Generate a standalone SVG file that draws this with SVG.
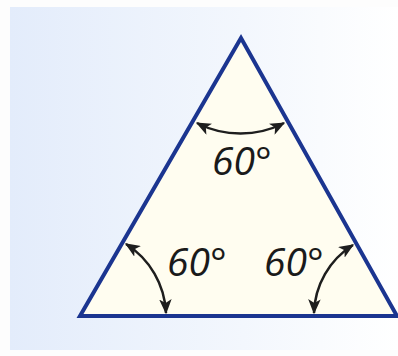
<svg xmlns="http://www.w3.org/2000/svg" width="398" height="356" viewBox="0 0 398 356">
  <style>
    .arc { fill: none; stroke: #1e1e1e; stroke-width: 2.5; marker-start: url(#ah); marker-end: url(#ah); }
    .lbl { font-family: "Open Sans", "Liberation Sans", sans-serif; font-style: italic; font-size: 39px; fill: #1a1a1a; }
  </style>
  <defs>
    <linearGradient id="bg" x1="0" y1="0" x2="1" y2="0">
      <stop offset="0" stop-color="#e3ecfb"/>
      <stop offset="0.6" stop-color="#f3f7fd"/>
      <stop offset="1" stop-color="#ffffff"/>
    </linearGradient>
    <marker id="ah" viewBox="0 0 12 10" refX="11" refY="5" markerWidth="6" markerHeight="5" orient="auto-start-reverse" markerUnits="strokeWidth">
      <path d="M0,0 L12,5 L0,10 L3,5 Z" fill="#1e1e1e"/>
    </marker>
  </defs>
  <rect x="0" y="0" width="398" height="356" fill="#fdfdfd"/>
  <rect id="panel" x="10" y="7" width="388" height="343" fill="url(#bg)"/>
  <g id="triangle">
    <polygon points="241,38 80,316 397,316" fill="#fffdf0" stroke="#1b3590" stroke-width="4" stroke-linejoin="miter"/>
  </g>
  <g id="connectors">
    <path class="arc" d="M197,123 A95,95 0 0 0 284,123"/>
    <path class="arc" d="M126,244 A86,86 0 0 1 166,313"/>
    <path class="arc" d="M314,313 A83,83 0 0 1 353,245"/>
  </g>
  <g id="label-top"><text class="lbl" x="212" y="175">60°</text></g>
  <g id="label-left"><text class="lbl" x="167" y="276">60°</text></g>
  <g id="label-right"><text class="lbl" x="264" y="276">60°</text></g>
</svg>
